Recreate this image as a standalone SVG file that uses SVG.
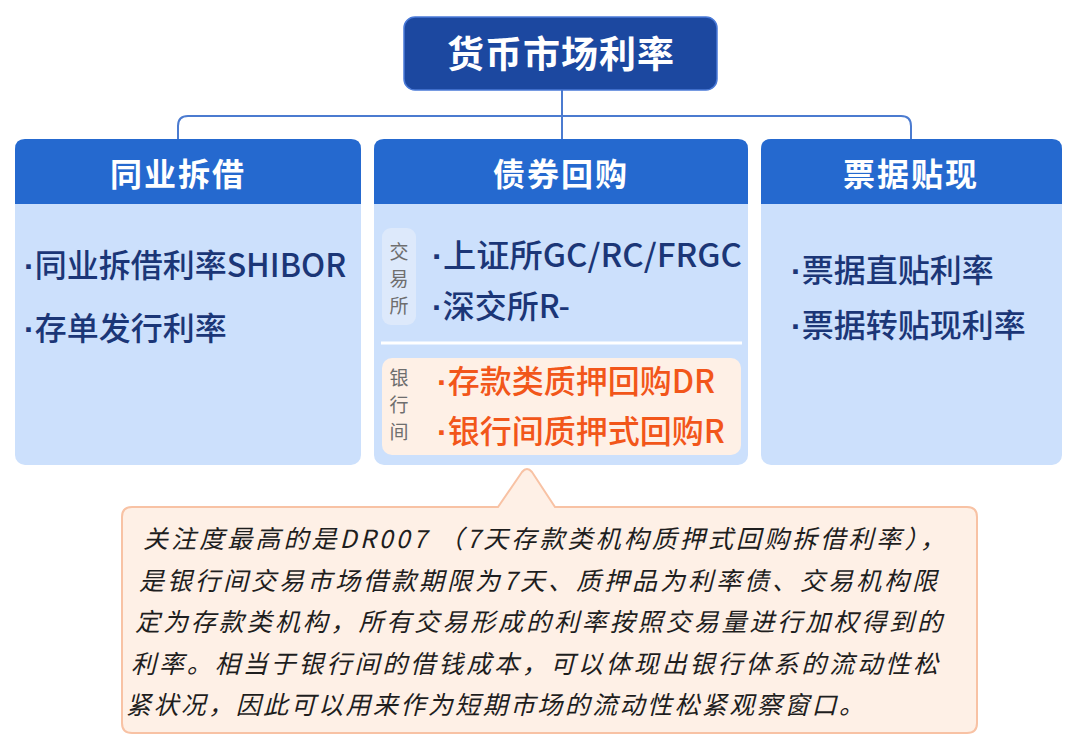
<svg xmlns="http://www.w3.org/2000/svg" width="1080" height="754" viewBox="0 0 1080 754">
<style>
.cjk{font-family:"Noto Sans CJK SC","Noto Sans",sans-serif}
.dot{font-family:"Liberation Sans",sans-serif;font-weight:700}
.hdr{font-size:32px;font-weight:700;fill:#fff;text-anchor:middle;letter-spacing:2px}
.item{font-size:32px;font-weight:500;fill:#1b3677}
.org{font-size:32px;font-weight:500;fill:#f2561a}
.tag{font-size:19px;fill:#6e6e6e;text-anchor:middle}
.body{fill:#cce0fc}
.head{fill:#2569cf}
.note{font-size:25px;fill:#1e1e1e;font-style:italic}
.conn{fill:none;stroke:#4b7bd0;stroke-width:2}
</style>
<rect width="1080" height="754" fill="#fff"/>
<g id="connectors">
<path class="conn" d="M562 90 V140"/>
<path class="conn" d="M178 140 V126 Q178 116 188 116 H901 Q911 116 911 126 V140"/>
</g>
<g id="root">
<rect x="404" y="17" width="313" height="73" rx="11" fill="#1c48a0" stroke="#4a7ad8" stroke-width="1.5"/>
<text class="cjk" x="561" y="68" font-size="37" font-weight="700" fill="#fff" text-anchor="middle" letter-spacing="1">货币市场利率</text>
</g>
<g id="interbank">
<rect class="body" x="15" y="139" width="346" height="326" rx="10"/>
<path class="head" d="M15 204 V149 Q15 139 25 139 H351 Q361 139 361 149 V204 Z"/>
<text class="cjk hdr" x="178" y="186">同业拆借</text>
<text class="cjk item" x="24" y="277"><tspan class="dot">·</tspan>同业拆借利率SHIBOR</text>
<text class="cjk item" x="24" y="340"><tspan class="dot">·</tspan>存单发行利率</text>
</g>
<g id="repo">
<rect class="body" x="374" y="139" width="374" height="326" rx="10"/>
<path class="head" d="M374 204 V149 Q374 139 384 139 H738 Q748 139 748 149 V204 Z"/>
<text class="cjk hdr" x="561" y="186">债券回购</text>
<rect x="382" y="228" width="34" height="97" rx="9" fill="#dde9fb"/>
<text class="cjk tag" x="399" y="259">交</text>
<text class="cjk tag" x="399" y="286">易</text>
<text class="cjk tag" x="399" y="313">所</text>
<text class="cjk item" x="432" y="267" textLength="310" lengthAdjust="spacingAndGlyphs"><tspan class="dot">·</tspan>上证所GC/RC/FRGC</text>
<text class="cjk item" x="432" y="318"><tspan class="dot">·</tspan>深交所R-</text>
<rect x="381" y="341.5" width="361" height="3" fill="#fff"/>
<rect x="382" y="358" width="359" height="97" rx="10" fill="#fef0e6"/>
<text class="cjk tag" x="399" y="385">银</text>
<text class="cjk tag" x="399" y="412">行</text>
<text class="cjk tag" x="399" y="439">间</text>
<text class="cjk org" x="437" y="393"><tspan class="dot">·</tspan>存款类质押回购DR</text>
<text class="cjk org" x="437" y="443"><tspan class="dot">·</tspan>银行间质押式回购R</text>
</g>
<g id="bills">
<rect class="body" x="761" y="139" width="301" height="326" rx="10"/>
<path class="head" d="M761 204 V149 Q761 139 771 139 H1052 Q1062 139 1062 149 V204 Z"/>
<text class="cjk hdr" x="911" y="186">票据贴现</text>
<text class="cjk item" x="791" y="282"><tspan class="dot">·</tspan>票据直贴利率</text>
<text class="cjk item" x="791" y="337"><tspan class="dot">·</tspan>票据转贴现利率</text>
</g>
<g id="note">
<path d="M132 507 H498 L522 472 Q527 466 532 472 L555 507 H967 Q977 507 977 517 V723 Q977 733 967 733 H132 Q122 733 122 723 V517 Q122 507 132 507 Z" fill="#fef0e6" stroke="#f8c2a4" stroke-width="2"/>
<text class="cjk note" x="143" y="548" textLength="802" lengthAdjust="spacing">关注度最高的是DR007 （7天存款类机构质押式回购拆借利率），</text>
<text class="cjk note" x="139" y="590" textLength="798" lengthAdjust="spacing">是银行间交易市场借款期限为7天、质押品为利率债、交易机构限</text>
<text class="cjk note" x="135" y="631" textLength="807" lengthAdjust="spacing">定为存款类机构，所有交易形成的利率按照交易量进行加权得到的</text>
<text class="cjk note" x="131" y="673" textLength="807" lengthAdjust="spacing">利率。相当于银行间的借钱成本，可以体现出银行体系的流动性松</text>
<text class="cjk note" x="126" y="714" textLength="738" lengthAdjust="spacing">紧状况，因此可以用来作为短期市场的流动性松紧观察窗口。</text>
</g>
</svg>
